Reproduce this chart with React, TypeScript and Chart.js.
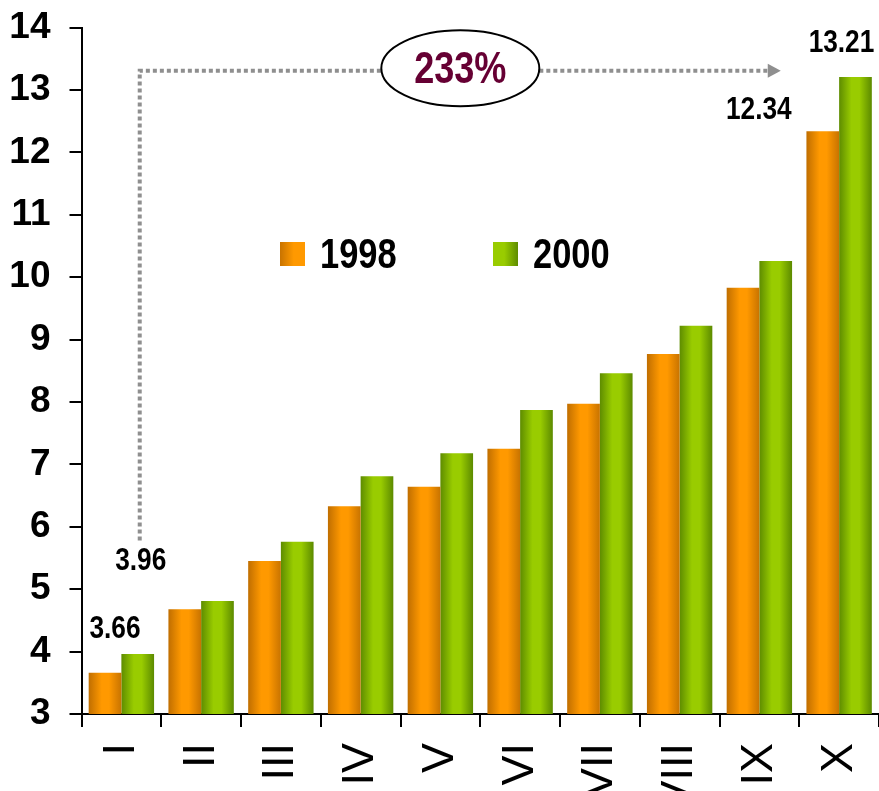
import React, { useEffect, useRef } from "react";
import { Chart, registerables } from "chart.js";

Chart.register(...registerables);

const categories = ["I", "II", "III", "IV", "V", "VI", "VII", "VIII", "IX", "X"];
const series1998 = [3.66, 4.68, 5.45, 6.33, 6.64, 7.25, 7.97, 8.77, 9.83, 12.34];
const series2000 = [3.96, 4.81, 5.76, 6.81, 7.18, 7.87, 8.46, 9.22, 10.26, 13.21];
const seriesNames = ["1998", "2000"];
const yMin = 3;
const yMax = 14;
const growthText = "233%";
const labelledIndices = [0, 9];

const CATEGORY_PCT = 0.82;

const orangeStops: [number, string][] = [
  [0, "#c06e00"],
  [0.4, "#ff9900"],
  [0.62, "#ff9900"],
  [1, "#c87300"],
];
const greenStops: [number, string][] = [
  [0, "#5e8c00"],
  [0.38, "#99cc00"],
  [0.62, "#99cc00"],
  [1, "#5c8a00"],
];

function makeBarGradient(stops: [number, string][]) {
  return (ctx: any) => {
    const chart = ctx.chart;
    const xs = chart.scales?.x;
    if (!chart.chartArea || !xs || ctx.type !== "data") return stops[1][1];
    const cx = xs.getPixelForValue(ctx.dataIndex);
    const cat = xs.getPixelForValue(1) - xs.getPixelForValue(0);
    const bw = (cat * CATEGORY_PCT) / 2;
    const left = ctx.datasetIndex === 0 ? cx - bw : cx;
    const g = chart.ctx.createLinearGradient(left, 0, left + bw, 0);
    stops.forEach(([o, c]) => g.addColorStop(o, c));
    return g;
  };
}

function narrowText(
  ctx: CanvasRenderingContext2D,
  text: string,
  x: number,
  baseline: number,
  size: number,
  color: string,
  align: CanvasTextAlign = "center"
) {
  ctx.save();
  ctx.font = `bold ${size}px "Liberation Sans", Arial, sans-serif`;
  ctx.fillStyle = color;
  ctx.textBaseline = "alphabetic";
  ctx.textAlign = align;
  ctx.translate(x, baseline);
  ctx.scale(0.82, 1);
  ctx.fillText(text, 0, 0);
  ctx.restore();
}

// label placement relative to bar top (dx, baseline dy)
const labelOffsets: Record<string, [number, number]> = {
  "0-0": [10, -35],
  "1-0": [3, -84],
  "0-9": [-64, -12],
  "1-9": [-14, -25],
};

const overlayPlugin = {
  id: "overlay",
  afterDatasetsDraw(chart: any) {
    const ctx: CanvasRenderingContext2D = chart.ctx;
    const xs = chart.scales.x;
    const ys = chart.scales.y;
    const m0 = chart.getDatasetMeta(0);
    const m1 = chart.getDatasetMeta(1);

    // value labels
    [0, 1].forEach((di) => {
      const meta = chart.getDatasetMeta(di);
      const data = chart.data.datasets[di].data as number[];
      labelledIndices.forEach((idx) => {
        const el = meta.data[idx];
        const off = labelOffsets[`${di}-${idx}`];
        narrowText(ctx, data[idx].toFixed(2), el.x + off[0], el.y + off[1], 32, "#000");
      });
    });

    // dotted growth arrow
    const vx = m1.data[0].x + 2;
    const topY = ys.getPixelForValue(13.31);
    const bottomY = ys.getPixelForValue(5.78);
    const ex = xs.getPixelForValue(4.25);
    const ey = ys.getPixelForValue(13.35);
    const rx = 79;
    const ry = 38;
    const tipX = m0.data[9].x - 42;

    ctx.save();
    ctx.strokeStyle = "#8f8f8f";
    ctx.lineWidth = 4;
    ctx.setLineDash([4, 3]);
    ctx.beginPath();
    ctx.moveTo(vx, bottomY);
    ctx.lineTo(vx, topY);
    ctx.lineTo(ex - rx, topY);
    ctx.stroke();
    ctx.beginPath();
    ctx.moveTo(ex + rx, topY);
    ctx.lineTo(tipX - 12, topY);
    ctx.stroke();
    ctx.setLineDash([]);
    ctx.fillStyle = "#8f8f8f";
    ctx.beginPath();
    ctx.moveTo(tipX - 13, topY - 7);
    ctx.lineTo(tipX, topY);
    ctx.lineTo(tipX - 13, topY + 7);
    ctx.closePath();
    ctx.fill();

    // ellipse
    ctx.beginPath();
    ctx.ellipse(ex, ey, rx, ry, 0, 0, Math.PI * 2);
    ctx.fillStyle = "#ffffff";
    ctx.fill();
    ctx.lineWidth = 2;
    ctx.strokeStyle = "#000";
    ctx.stroke();
    ctx.restore();
    narrowText(ctx, growthText, ex, ey + 15, 44, "#660033");

    // legend
    const legendItems = [
      { x: 280, stops: [[0, "#c87300"], [0.55, "#ff9900"], [1, "#ff9900"]] },
      { x: 493, stops: [[0, "#99cc00"], [0.45, "#99cc00"], [1, "#5e8c00"]] },
    ];
    legendItems.forEach((it, i) => {
      const g = ctx.createLinearGradient(it.x, 0, it.x + 25, 0);
      (it.stops as [number, string][]).forEach(([o, c]) => g.addColorStop(o, c));
      ctx.fillStyle = g;
      ctx.fillRect(it.x, 242, 25, 24);
      narrowText(ctx, chart.data.datasets[i].label, it.x + 40, 268, 42, "#000", "left");
    });
  },
};

export default function App() {
  const ref = useRef<HTMLCanvasElement | null>(null);
  useEffect(() => {
    if (!ref.current) return;
    const chart = new Chart(ref.current, {
      type: "bar",
      data: {
        labels: categories,
        datasets: [
          {
            label: seriesNames[0],
            data: series1998,
            backgroundColor: makeBarGradient(orangeStops),
            categoryPercentage: CATEGORY_PCT,
            barPercentage: 1,
            borderWidth: 0,
          },
          {
            label: seriesNames[1],
            data: series2000,
            backgroundColor: makeBarGradient(greenStops),
            categoryPercentage: CATEGORY_PCT,
            barPercentage: 1,
            borderWidth: 0,
          },
        ],
      },
      options: {
        animation: false,
        responsive: false,
        layout: { padding: { top: 27.6, left: 0, right: 0, bottom: 0 } },
        plugins: { legend: { display: false }, tooltip: { enabled: false } },
        scales: {
          x: {
            afterFit: (s: any) => {
              s.height = 77;
              s.paddingLeft = 0;
              s.paddingRight = 0;
            },
            border: { display: true, color: "#000", width: 2 },
            grid: {
              display: true,
              drawOnChartArea: false,
              drawTicks: true,
              tickLength: 13,
              color: "#000",
              lineWidth: 2,
              offset: true,
            },
            ticks: {
              autoSkip: false,
              minRotation: 90,
              maxRotation: 90,
              padding: 16,
              color: "#000",
              font: { family: '"Liberation Sans", Arial, sans-serif', size: 45, weight: "normal" },
            },
          },
          y: {
            min: yMin,
            max: yMax,
            afterFit: (s: any) => {
              s.width = 81.5;
              s.paddingTop = 0;
              s.paddingBottom = 0;
            },
            border: { display: true, color: "#000", width: 2 },
            grid: {
              display: true,
              drawOnChartArea: false,
              drawTicks: true,
              tickLength: 12,
              color: "#000",
              lineWidth: 2,
            },
            ticks: {
              stepSize: 1,
              padding: 19,
              color: "#000",
              font: { family: '"Liberation Sans", Arial, sans-serif', size: 37, weight: "bold" },
            },
          },
        },
      },
      plugins: [overlayPlugin],
    });
    return () => chart.destroy();
  }, []);

  return (
    <div style={{ position: "absolute", left: 0, top: 0, width: 879, height: 791, background: "#fff" }}>
      <canvas ref={ref} width={879} height={791} style={{ display: "block" }} />
    </div>
  );
}
